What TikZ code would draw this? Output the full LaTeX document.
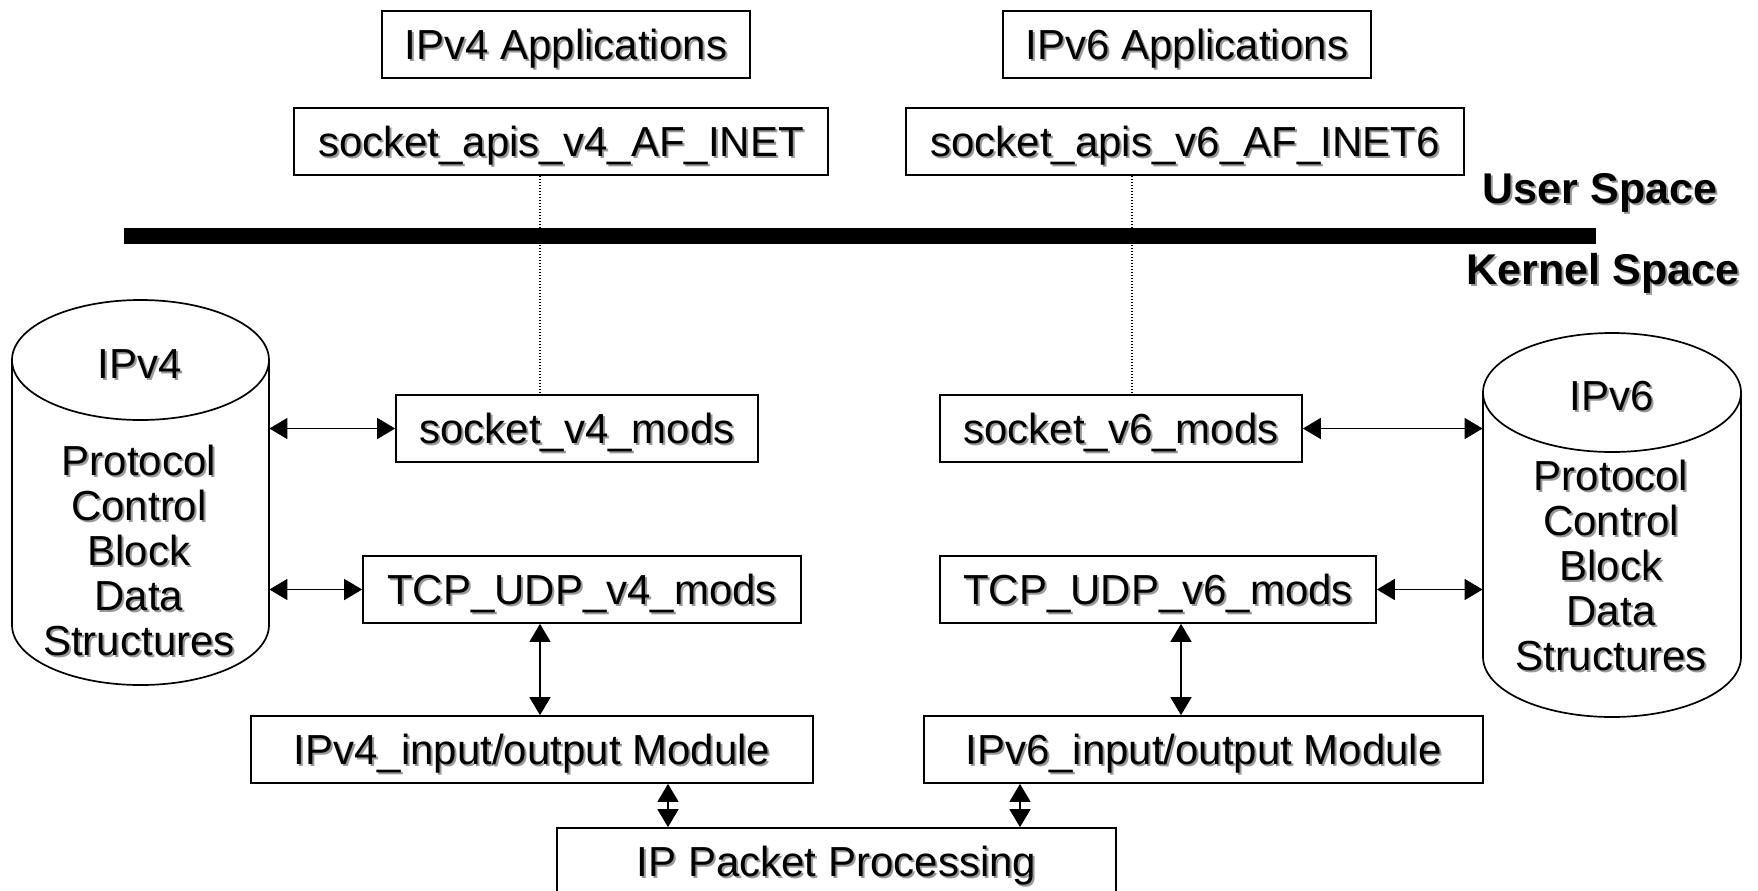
\documentclass[tikz,border=0pt]{standalone}
\usepackage{fontspec}
\setmainfont{Liberation Sans}
\usetikzlibrary{arrows.meta}
\newcommand{\shd}[1]{\makebox[0pt][l]{\hspace{1pt}\raisebox{-1pt}{\textcolor{black!40}{#1}}}#1}
\tikzset{
  box/.style={draw, line width=0.85pt, minimum height=33.5pt, inner sep=0pt,
    text height=15.05pt, text depth=0pt, font=\fontsize{21}{22.5}\selectfont},
  lbl/.style={inner sep=0pt, text height=15.4pt, text depth=0pt,
    font=\fontsize{21.5}{24}\selectfont\bfseries},
  cyltop/.style={inner sep=0pt, text height=15.05pt, text depth=0pt,
    font=\fontsize{21}{22.5}\selectfont},
  cylbody/.style={inner sep=0pt, anchor=north, align=center,
    font=\fontsize{21}{22.5}\selectfont},
  cylline/.style={draw, line width=0.85pt},
  biarrow/.style={line width=0.8pt, {Triangle[length=9pt,width=10.5pt]}-{Triangle[length=9pt,width=10.5pt]}},
  dotline/.style={line width=0.6pt, dash pattern=on 0.6pt off 0.9pt},
}
\begin{document}
\begin{tikzpicture}[x=0.5pt,y=0.5pt]
\useasboundingbox (0,0) rectangle (1758,-890);
\clip (0,0) rectangle (1758,-890);
\fill[white] (0,0) rectangle (1758,-890);

% boxes
\node[box, minimum width=184pt] (a4) at (566,-44.5) {\shd{IPv4 Applications}};
\node[box, minimum width=184pt] (a6) at (1187,-44.5) {\shd{IPv6 Applications}};
\node[box, minimum width=267pt] (s4) at (561,-141.5) {\shd{socket\_apis\_v4\_AF\_INET}};
\node[box, minimum width=279pt] (s6) at (1185,-141.5) {\shd{socket\_apis\_v6\_AF\_INET6}};
\node[box, minimum width=181pt] (m4) at (577,-428.5) {\shd{socket\_v4\_mods}};
\node[box, minimum width=181pt] (m6) at (1121,-428.5) {\shd{socket\_v6\_mods}};
\node[box, minimum width=219pt] (t4) at (582,-589.5) {\shd{TCP\_UDP\_v4\_mods}};
\node[box, minimum width=218pt] (t6) at (1158,-589.5) {\shd{TCP\_UDP\_v6\_mods}};
\node[box, minimum width=281pt] (io4) at (532,-749.5) {\shd{IPv4\_input/output Module}};
\node[box, minimum width=279.5pt] (io6) at (1203.5,-749.5) {\shd{IPv6\_input/output Module}};
\node[box, minimum width=279.5pt] (ip) at (836.5,-861.5) {\shd{IP Packet Processing}};

% user / kernel separation
\fill (124,-228) rectangle (1596,-244);
\node[lbl] (us) at (1600,-188) {\shd{User Space}};
\node[lbl] (ks) at (1603,-269) {\shd{Kernel Space}};

% cylinders
\node[minimum width=128.5pt, minimum height=192.5pt, inner sep=0pt] (c4) at (140.5,-492.5) {};
\draw[cylline] (12,-360) -- (12,-625) arc[start angle=180, end angle=360, x radius=128.5, y radius=60] -- (269,-360);
\draw[cylline] (140.5,-360) ellipse [x radius=128.5, y radius=60];
\node[cyltop] (c4h) at (140,-363) {\shd{IPv4}};
\node[cylbody] (c4b) at (139,-445) {\shd{Protocol}\\\shd{Control}\\\shd{Block}\\\shd{Data}\\\shd{Structures}};

\node[minimum width=129pt, minimum height=192pt, inner sep=0pt] (c6) at (1612,-525) {};
\draw[cylline] (1483,-392.5) -- (1483,-657) arc[start angle=180, end angle=360, x radius=129, y radius=60] -- (1741,-392.5);
\draw[cylline] (1612,-392.5) ellipse [x radius=129, y radius=59.5];
\node[cyltop] (c6h) at (1612,-395) {\shd{IPv6}};
\node[cylbody] (c6b) at (1611,-460) {\shd{Protocol}\\\shd{Control}\\\shd{Block}\\\shd{Data}\\\shd{Structures}};

% connector x positions
\coordinate (d4) at (540,0);
\coordinate (d6) at (1132,0);
\coordinate (v6) at (1181,0);
\coordinate (p4) at (668,0);
\coordinate (p6) at (1020,0);

% dotted links
\draw[dotline] (d4 |- s4.south) -- (d4 |- m4.north);
\draw[dotline] (d6 |- s6.south) -- (d6 |- m6.north);

% arrows
\draw[biarrow] (c4.east |- m4.west) -- (m4.west);
\draw[biarrow] (c4.east |- t4.west) -- (t4.west);
\draw[biarrow] (m6.east) -- (c6.west |- m6.east);
\draw[biarrow] (t6.east) -- (c6.west |- t6.east);
\draw[biarrow] (d4 |- t4.south) -- (d4 |- io4.north);
\draw[biarrow] (v6 |- t6.south) -- (v6 |- io6.north);
\draw[biarrow] (p4 |- io4.south) -- (p4 |- ip.north);
\draw[biarrow] (p6 |- io6.south) -- (p6 |- ip.north);
\end{tikzpicture}
\end{document}
